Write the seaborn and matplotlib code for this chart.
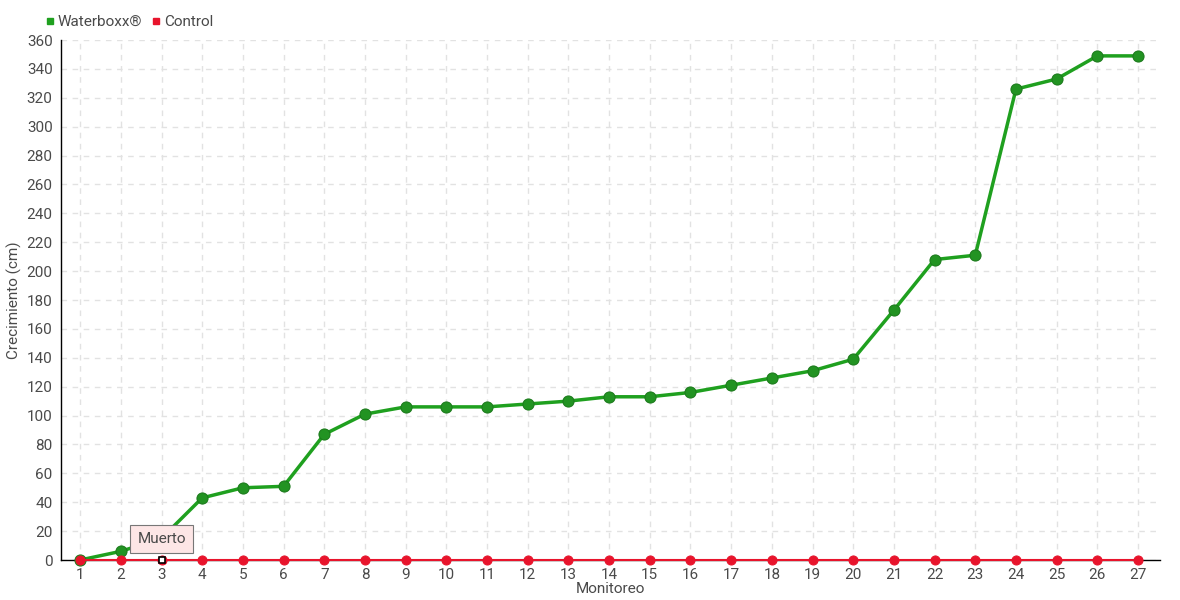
import pandas as pd
import seaborn as sns
import matplotlib.pyplot as plt
from matplotlib.lines import Line2D

# monitoring rounds and growth (cm)
monitoreo = list(range(1, 28))
waterboxx = [0, 6, 15, 43, 50, 51, 87, 101, 106, 106, 106, 108, 110, 113, 113,
             116, 121, 126, 131, 139, 173, 208, 211, 326, 333, 349, 349]
control = [0] * 27
y_ticks = list(range(0, 361, 20))

df = pd.DataFrame({
    'Monitoreo': monitoreo * 2,
    'Crecimiento': waterboxx + control,
    'serie': ['Waterboxx®'] * 27 + ['Control'] * 27,
})

sns.set_style('white')
plt.rcParams['font.family'] = ['Roboto', 'DejaVu Sans']

green = '#1fa01f'
red = '#e8142c'
text_col = '#4a4a4a'

fig, ax = plt.subplots(figsize=(11.8, 6), dpi=100)
fig.subplots_adjust(left=61 / 1180, right=1160 / 1180, top=1 - 40 / 600, bottom=1 - 560 / 600)

sns.lineplot(data=df[df.serie == 'Waterboxx®'], x='Monitoreo', y='Crecimiento',
             color=green, linewidth=2.5, marker='o', markersize=8,
             markerfacecolor='#229322', markeredgecolor='#1c7a1c', ax=ax, zorder=4)
sns.lineplot(data=df[df.serie == 'Control'], x='Monitoreo', y='Crecimiento',
             color=red, linewidth=1.5, marker='o', markersize=6.5,
             markerfacecolor=red, markeredgecolor=red, ax=ax, zorder=5)
for ln in ax.lines:
    ln.set_clip_on(False)

# dead plant marker on control at round 3
ax.plot([3], [control[2]], marker='s', markersize=5, markerfacecolor='white',
        markeredgecolor='black', markeredgewidth=1.2, zorder=6, clip_on=False)
ax.annotate('Muerto', xy=(3, control[2]), xytext=(3, 14.5), ha='center', va='center',
            fontsize=11, color=text_col, zorder=7,
            bbox=dict(boxstyle='square,pad=0.45', fc='#fde6e6', ec='#777777', lw=0.8))

ax.set_xlim(0.53, 27.54)
ax.set_ylim(0, 360)
ax.set_xticks(monitoreo)
ax.set_yticks(y_ticks)
ax.tick_params(axis='both', labelsize=11, labelcolor=text_col, color='black',
               length=4, direction='out', pad=2)
ax.grid(True, linestyle=(0, (4, 4)), color='#e2e2e2', linewidth=1)
ax.set_axisbelow(True)
for s in ['top', 'right']:
    ax.spines[s].set_visible(False)
for s in ['left', 'bottom']:
    ax.spines[s].set_color('black')
    ax.spines[s].set_linewidth(1)

ax.set_xlabel('Monitoreo', fontsize=11, color=text_col, labelpad=0)
ax.set_ylabel('Crecimiento (cm)', fontsize=11, color=text_col, labelpad=3)

handles = [Line2D([], [], linestyle='none', marker='s', markersize=5, color=green),
           Line2D([], [], linestyle='none', marker='s', markersize=5, color=red)]
ax.legend(handles, ['Waterboxx®', 'Control'], loc='lower left', bbox_to_anchor=(-0.025, 1.0),
          ncol=2, frameon=False, fontsize=11, handlelength=0.8, handletextpad=0.1,
          columnspacing=0.5, labelcolor=text_col, borderaxespad=0.3)

fig.savefig('out.png', dpi=100)
